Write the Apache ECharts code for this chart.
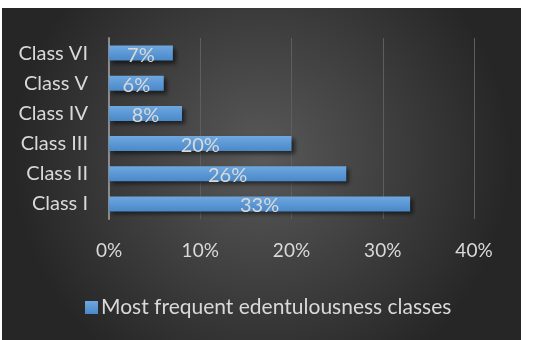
<!DOCTYPE html>
<html>
<head>
<meta charset="utf-8">
<script src="https://cdn.jsdelivr.net/npm/echarts@6/dist/echarts.min.js"></script>
<style>
  html, body { margin: 0; padding: 0; background: #fff; }
  #main { width: 552px; height: 340px; }
</style>
</head>
<body>
<div id="main"></div>
<script>
// categories from bottom to top
const classes = ['Class I', 'Class II', 'Class III', 'Class IV', 'Class V', 'Class VI'];
const percents = [33, 26, 20, 8, 6, 7];
const seriesName = 'Most frequent edentulousness classes';

const chart = echarts.init(document.getElementById('main'));
const txt = '#d9d9d9';
const font = 'Lato';

const option = {
  animation: false,
  graphic: [{
    type: 'rect',
    z: -10,
    shape: { x: 2, y: 8, width: 519, height: 332 },
    style: {
      fill: new echarts.graphic.RadialGradient(0.5, 0.45, 0.75, [
        { offset: 0, color: '#595959' },
        { offset: 1, color: '#262626' }
      ])
    }
  }],
  legend: {
    left: 80,
    top: 292,
    itemWidth: 13,
    itemHeight: 13,
    itemGap: 7,
    icon: 'rect',
    textStyle: { color: txt, fontSize: 21, fontFamily: font, padding: [0, 0, 0, -2] }
  },
  grid: { left: 109, right: 78, top: 38, bottom: 121 },
  xAxis: {
    type: 'value',
    min: 0, max: 40, interval: 10,
    axisLine: { show: false },
    axisTick: { show: false },
    axisLabel: {
      color: txt, fontSize: 19, fontFamily: font, margin: 22,
      formatter: v => v + '%'
    },
    splitLine: { lineStyle: { color: '#5e5e5e', width: 1 } }
  },
  yAxis: {
    type: 'category',
    data: classes,
    axisLine: { lineStyle: { color: '#8c8c8c', width: 2 } },
    axisTick: { show: false },
    axisLabel: { color: txt, fontSize: 20, fontFamily: font, margin: 21 }
  },
  series: [{
    name: seriesName,
    type: 'bar',
    data: percents,
    barWidth: 15,
    itemStyle: {
      color: new echarts.graphic.LinearGradient(0, 0, 0, 1, [
        { offset: 0, color: '#6ea8e0' },
        { offset: 1, color: '#4a88c9' }
      ]),
      shadowColor: 'rgba(0,0,0,0.55)',
      shadowBlur: 4,
      shadowOffsetX: 3,
      shadowOffsetY: 3
    },
    label: {
      show: true,
      position: 'inside',
      offset: [0, 2],
      color: txt,
      fontSize: 20,
      fontFamily: font,
      formatter: p => p.value + '%'
    }
  }]
};
chart.setOption(option);
</script>
</body>
</html>
